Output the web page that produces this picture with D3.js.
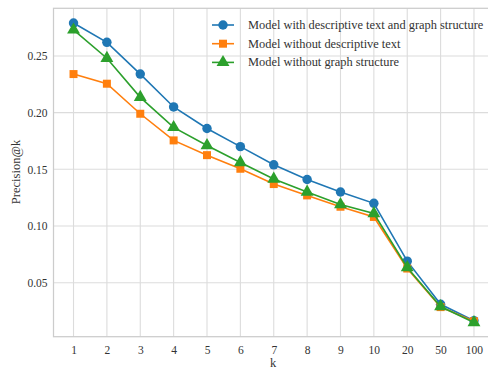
<!DOCTYPE html>
<html lang="en">
<head>
    <meta charset="utf-8">
    <title>Precision@k</title>
    <script src="https://cdn.jsdelivr.net/npm/d3@7"></script>
    <style>
        body { margin: 0; background: #fff; }
        text { font-family: "Liberation Serif", "DejaVu Serif", serif; fill: #333; }
    </style>
</head>
<body>
<script>
    var kLabels = ["1", "2", "3", "4", "5", "6", "7", "8", "9", "10", "20", "50", "100"];
    var seriesNames = ["Model with descriptive text and graph structure",
                       "Model without descriptive text",
                       "Model without graph structure"];
    var fullModel    = [0.279, 0.262, 0.234, 0.205, 0.186, 0.170, 0.154, 0.141, 0.130, 0.120, 0.069, 0.031, 0.0165];
    var noText       = [0.234, 0.2255, 0.199, 0.1755, 0.1625, 0.1505, 0.137, 0.127, 0.117, 0.108, 0.0625, 0.0285, 0.016];
    var noGraph      = [0.273, 0.248, 0.2135, 0.187, 0.171, 0.156, 0.1415, 0.130, 0.119, 0.111, 0.0635, 0.029, 0.015];
    var yTicks = [0.05, 0.10, 0.15, 0.20, 0.25];

    var colors = ["#1f77b4", "#ff7f0e", "#2ca02c"];
    var shapes = [d3.symbolCircle, d3.symbolSquare, d3.symbolTriangle];
    var sizes = [70, 64, 72];
    var allSeries = [fullModel, noText, noGraph];

    var width = 488, height = 371;
    var plotLeft = 53.5, plotRight = 494, plotTop = 8.3, plotBottom = 336.7;

    var svg = d3.select("body").append("svg")
        .attr("width", width)
        .attr("height", height);

    var x = d3.scalePoint()
        .domain(kLabels)
        .range([plotLeft, plotRight])
        .padding(0.6);

    var y = d3.scaleLinear()
        .domain([0.0024, 0.292])
        .range([plotBottom, plotTop]);

    // grid
    svg.append("g").selectAll("line")
        .data(kLabels).enter().append("line")
        .attr("x1", function(d) { return x(d); })
        .attr("x2", function(d) { return x(d); })
        .attr("y1", plotTop).attr("y2", plotBottom)
        .style("stroke", "#dcdcdc").style("stroke-width", 1.1);

    svg.append("g").selectAll("line")
        .data(yTicks).enter().append("line")
        .attr("x1", plotLeft).attr("x2", plotRight)
        .attr("y1", function(d) { return y(d); })
        .attr("y2", function(d) { return y(d); })
        .style("stroke", "#dcdcdc").style("stroke-width", 1.1);

    // frame
    svg.append("rect")
        .attr("x", plotLeft).attr("y", plotTop)
        .attr("width", plotRight - plotLeft).attr("height", plotBottom - plotTop)
        .style("fill", "none").style("stroke", "#cccccc").style("stroke-width", 1.25);

    // axes (labels only, no tick marks)
    var xAxis = svg.append("g")
        .attr("transform", "translate(0," + plotBottom + ")")
        .call(d3.axisBottom(x).tickSize(0).tickPadding(9));
    var yAxis = svg.append("g")
        .attr("transform", "translate(" + plotLeft + ",0)")
        .call(d3.axisLeft(y).tickValues(yTicks).tickSize(0).tickPadding(6).tickFormat(d3.format(".2f")));
    [xAxis, yAxis].forEach(function(a) {
        a.select(".domain").remove();
        a.attr("font-family", null).attr("font-size", null);
        a.selectAll("text").style("font-size", "11.5px").attr("fill", "#333");
    });

    svg.append("text")
        .attr("x", 273)
        .attr("y", 367)
        .attr("text-anchor", "middle")
        .style("font-size", "12.5px")
        .text("k");

    svg.append("text")
        .attr("transform", "translate(19.5,172) rotate(-90)")
        .attr("text-anchor", "middle")
        .style("font-size", "12.5px")
        .text("Precision@k");

    // lines and markers
    var line = d3.line()
        .x(function(d, i) { return x(kLabels[i]); })
        .y(function(d) { return y(d); });

    allSeries.forEach(function(vals, s) {
        svg.append("path")
            .datum(vals)
            .attr("d", line)
            .style("fill", "none")
            .style("stroke", colors[s])
            .style("stroke-width", 1.6);

        svg.append("g").selectAll("path")
            .data(vals).enter().append("path")
            .attr("transform", function(d, i) { return "translate(" + x(kLabels[i]) + "," + y(d) + ")"; })
            .attr("d", d3.symbol().type(shapes[s]).size(sizes[s]))
            .style("fill", colors[s]);
    });

    // legend
    var legend = svg.append("g").attr("transform", "translate(212,25)");
    seriesNames.forEach(function(name, s) {
        var row = legend.append("g").attr("transform", "translate(0," + (s * 18.7) + ")");
        row.append("line")
            .attr("x1", 0).attr("x2", 22)
            .style("stroke", colors[s]).style("stroke-width", 1.6);
        row.append("path")
            .attr("transform", "translate(11,0)")
            .attr("d", d3.symbol().type(shapes[s]).size(sizes[s]))
            .style("fill", colors[s]);
        row.append("text")
            .attr("x", 36)
            .attr("dy", "0.33em")
            .style("font-size", "12.4px")
            .text(name);
    });
</script>
</body>
</html>
